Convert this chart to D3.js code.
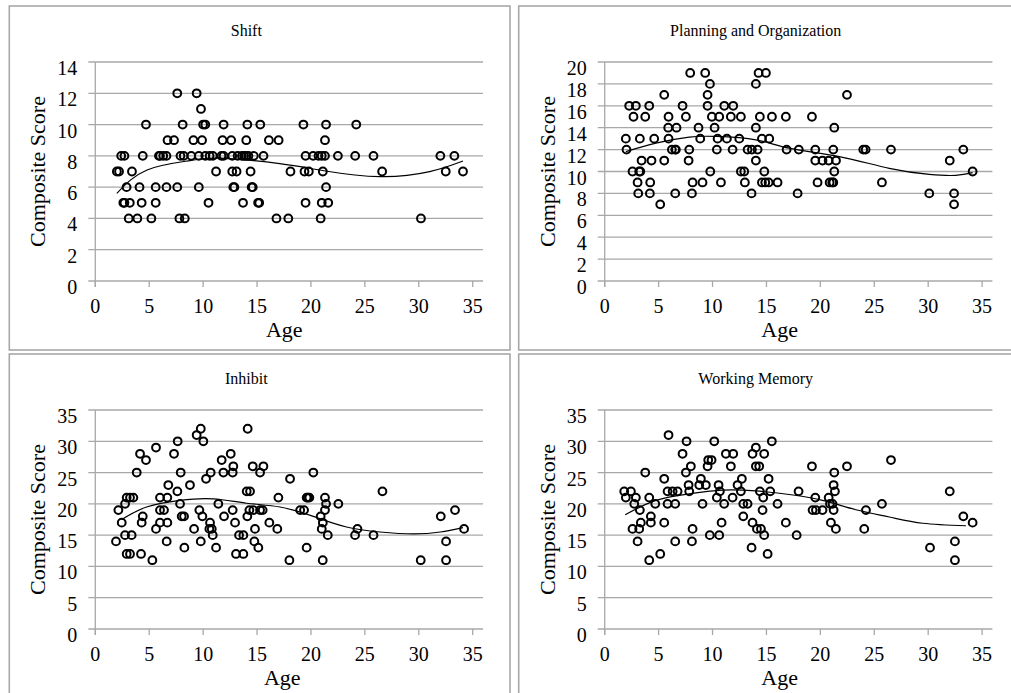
<!DOCTYPE html>
<html>
<head>
<meta charset="utf-8">
<script src="https://cdn.jsdelivr.net/npm/d3@7"></script>
<style>
  html, body { margin: 0; padding: 0; background: #fff; }
  svg { display: block; }
  text { font-family: "Liberation Serif", "Times New Roman", serif; fill: #000; }
</style>
</head>
<body>
<svg id="chart" width="1011" height="693"></svg>
<script>
// ---------------- DATA ----------------
const xTicks = [0, 5, 10, 15, 20, 25, 30, 35];

// Shift: score levels and the ages observed at each level
const shiftLevels = [12, 11, 10, 9, 8, 7, 6, 5, 4];
const shiftAges = [
  [7.6, 9.4],
  [9.8],
  [4.7, 8.1, 10.0, 10.2, 11.9, 14.1, 15.3, 19.3, 21.4, 24.2],
  [6.7, 7.3, 9.1, 9.9, 11.8, 12.6, 14.0, 16.1, 17.0, 21.3],
  [2.4, 2.7, 4.4, 5.9, 6.0, 6.3, 6.6, 7.9, 8.2, 8.9, 9.6, 10.2, 10.6, 10.9, 11.7, 11.9, 12.7, 13.2, 13.6, 13.8, 14.0, 14.2, 14.7, 15.6, 19.5, 20.2, 20.7, 21.0, 21.3, 22.5, 24.1, 25.8, 32.0, 33.3],
  [2.0, 2.2, 3.4, 11.2, 12.7, 13.1, 14.4, 18.1, 19.4, 19.8, 21.1, 26.6, 32.5, 34.1],
  [2.9, 4.1, 5.6, 6.6, 7.6, 9.6, 12.8, 12.9, 14.5, 14.6, 21.4],
  [2.6, 2.7, 3.2, 4.3, 5.6, 10.5, 13.7, 15.1, 15.2, 19.5, 21.0, 21.6],
  [3.1, 3.9, 5.2, 7.8, 8.3, 16.8, 17.9, 20.9, 30.2]
];
const shiftTicks = [0, 2, 4, 6, 8, 10, 12, 14];
const shiftTrendAge   = [2.0, 4.8, 8.8, 11.6, 17.1, 21.2, 26.4, 31.0, 34.1];
const shiftTrendScore = [5.6, 7.1, 7.7, 7.85, 7.5, 7.05, 6.67, 6.99, 7.67];

// Planning and Organization
const planLevels = [19, 18, 17, 16, 15, 14, 13, 12, 11, 10, 9, 8, 7];
const planAges = [
  [7.93, 9.32, 14.27, 14.95],
  [9.76, 14.02],
  [5.52, 9.54, 22.47],
  [2.27, 2.89, 4.13, 7.22, 9.54, 11.09, 11.92],
  [2.67, 3.76, 5.92, 7.53, 9.94, 10.62, 11.7, 12.63, 14.39, 15.51, 16.8, 19.22],
  [5.89, 6.66, 8.7, 10.19, 14.02, 21.29],
  [1.96, 3.26, 4.59, 5.92, 8.86, 10.47, 11.33, 12.48, 14.58, 15.26],
  [2.02, 6.23, 6.54, 6.6, 7.84, 10.4, 11.86, 13.25, 13.65, 14.18, 16.87, 18.0, 19.53, 21.2, 23.98, 24.2, 26.55, 33.26],
  [3.42, 4.34, 5.52, 7.78, 14.02, 19.53, 20.2, 20.77, 21.45, 32.0],
  [2.58, 3.2, 3.3, 9.79, 12.63, 12.94, 14.8, 21.29, 34.12],
  [3.05, 4.22, 8.15, 9.07, 10.78, 13.0, 14.58, 14.89, 15.2, 16.03, 19.74, 20.86, 21.1, 21.2, 25.71],
  [3.11, 4.19, 6.54, 8.09, 13.62, 17.89, 30.1, 32.4],
  [5.15, 32.4]
];
const planTicks = [0, 2, 4, 6, 8, 10, 12, 14, 16, 18, 20];
const planTrendAge   = [1.96, 4.75, 7.84, 10.31, 14.02, 17.1, 21.75, 26.39, 30.1, 32.57, 34.12];
const planTrendScore = [11.82, 12.59, 13.14, 13.2, 12.89, 12.13, 11.36, 10.29, 9.74, 9.65, 9.89];

// Inhibit
const inhLevels = [32, 31, 30, 29, 28, 27, 26, 25, 24, 23, 22, 21, 20, 19, 18, 17, 16, 15, 14, 13, 12, 11];
const inhAges = [
  [9.78, 14.13],
  [9.4],
  [7.64, 10.02],
  [5.63],
  [4.15, 7.3, 12.56],
  [4.7, 11.72],
  [12.8, 14.6, 15.59],
  [3.84, 7.92, 10.7, 11.88, 12.74, 15.28, 20.22],
  [10.27, 18.06],
  [6.77, 8.78],
  [7.61, 14.04, 14.35, 26.63],
  [2.91, 3.22, 3.53, 6.0, 6.68, 16.98, 19.6, 19.7, 19.85, 21.3],
  [2.76, 7.86, 11.41, 21.4, 22.54],
  [2.14, 6.0, 6.37, 9.65, 12.74, 14.29, 14.66, 15.28, 15.52, 19.0, 19.36, 21.3, 33.36],
  [4.4, 8.01, 8.23, 9.93, 11.94, 14.1, 20.9, 32.04],
  [2.45, 4.3, 6.0, 6.68, 10.64, 12.96, 16.14, 21.1],
  [5.63, 9.16, 10.58, 10.8, 14.81, 16.88, 21.0, 24.31, 34.2],
  [2.76, 3.37, 10.89, 13.33, 13.73, 21.56, 24.09, 25.8],
  [1.92, 6.62, 9.78, 14.75, 32.53],
  [8.26, 11.2, 15.12, 19.6],
  [2.91, 3.22, 4.24, 13.05, 13.73],
  [5.29, 18.0, 21.09, 30.18, 32.53]
];
const bigTicks = [0, 5, 10, 15, 20, 25, 30, 35];
const inhTrendAge   = [2.45, 4.76, 7.85, 10.94, 14.04, 17.13, 20.22, 23.3, 26.4, 29.5, 32.0, 34.1];
const inhTrendScore = [17.5, 19.5, 20.56, 20.8, 20.1, 19.5, 18.0, 16.3, 15.5, 15.2, 15.5, 16.2];

// Working Memory
const wmLevels = [31, 30, 29, 28, 27, 26, 25, 24, 23, 22, 21, 20, 19, 18, 17, 16, 15, 14, 13, 12, 11];
const wmAges = [
  [5.92],
  [7.59, 10.16, 15.5],
  [14.02],
  [7.22, 11.24, 11.92, 13.71, 14.79],
  [9.6, 9.91, 26.55],
  [7.99, 9.54, 11.7, 14.02, 14.33, 19.22, 22.47],
  [3.76, 7.53, 21.29],
  [5.52, 8.92, 12.72, 15.2],
  [7.78, 8.77, 9.38, 10.56, 12.32, 21.23],
  [1.81, 2.43, 5.83, 6.3, 6.76, 7.84, 10.68, 12.63, 14.39, 15.35, 17.98, 21.35, 32.0],
  [1.96, 2.89, 4.13, 10.4, 11.86, 14.7, 19.53, 20.77],
  [2.74, 4.69, 5.83, 6.54, 9.07, 11.08, 12.85, 13.25, 16.03, 20.89, 21.13, 25.71],
  [3.26, 14.64, 19.28, 19.59, 20.2, 21.23, 24.23],
  [4.28, 12.85, 33.26],
  [3.35, 4.28, 5.52, 10.84, 13.71, 16.8, 20.98, 34.12],
  [2.58, 3.2, 8.15, 14.12, 14.49, 21.44, 24.07],
  [9.75, 10.62, 14.79, 17.8],
  [3.05, 6.54, 8.09, 32.48],
  [13.62, 30.17],
  [5.15, 15.11],
  [4.13, 32.48]
];
const wmTrendAge   = [1.9, 4.75, 7.84, 10.93, 14.02, 17.1, 20.2, 23.3, 26.4, 29.5, 33.5];
const wmTrendScore = [18.26, 20.56, 21.6, 22.2, 22.06, 21.5, 20.56, 19.06, 17.9, 16.9, 16.5];

const titles = ["Shift", "Planning and Organization", "Inhibit", "Working Memory"];
const xLabel = "Age";
const yLabel = "Composite Score";

// ---------------- LAYOUT ----------------
const panels = [
  { title: titles[0], px: 9.3,   py: 6,   ageX: 275, levels: shiftLevels, ages: shiftAges, ticks: shiftTicks, tA: shiftTrendAge, tS: shiftTrendScore },
  { title: titles[1], px: 518.7, py: 6,   ageX: 261, levels: planLevels,  ages: planAges,  ticks: planTicks,  tA: planTrendAge,  tS: planTrendScore },
  { title: titles[2], px: 9.3,   py: 354, ageX: 273, levels: inhLevels,   ages: inhAges,   ticks: bigTicks,   tA: inhTrendAge,   tS: inhTrendScore },
  { title: titles[3], px: 518.7, py: 354, ageX: 261, levels: wmLevels,    ages: wmAges,    ticks: bigTicks,   tA: wmTrendAge,    tS: wmTrendScore }
];

const PW = 500.7, PH = 344;
const plotL = 86, plotX35 = 463.4, gridR = 473.7, plotT = 56, plotB = 275;
const gridColor = "#a8a8a8";

const svg = d3.select("#chart");
svg.append("rect").attr("width", 1011).attr("height", 693).attr("fill", "#fff");

panels.forEach(p => {
  const g = svg.append("g").attr("transform", `translate(${p.px},${p.py})`);
  g.append("rect").attr("x", 0).attr("y", 0).attr("width", PW).attr("height", PH)
    .attr("fill", "#fff").attr("stroke", gridColor).attr("stroke-width", 1.6);

  const yMax = p.ticks[p.ticks.length - 1];
  const x = d3.scaleLinear().domain([0, 35]).range([plotL, plotX35]);
  const y = d3.scaleLinear().domain([0, yMax]).range([plotB, plotT]);

  // gridlines with left tick extension
  g.selectAll(".grid").data(p.ticks).enter().append("line")
    .attr("x1", plotL - 7).attr("x2", gridR)
    .attr("y1", d => y(d)).attr("y2", d => y(d))
    .attr("stroke", gridColor).attr("stroke-width", 1.3);
  // y axis line
  g.append("line").attr("x1", plotL).attr("x2", plotL).attr("y1", plotT).attr("y2", plotB + 6)
    .attr("stroke", gridColor).attr("stroke-width", 1.3);
  // x ticks
  g.selectAll(".xt").data(xTicks).enter().append("line")
    .attr("x1", d => x(d)).attr("x2", d => x(d))
    .attr("y1", plotB).attr("y2", plotB + 6)
    .attr("stroke", gridColor).attr("stroke-width", 1.3);

  // y tick labels
  g.selectAll(".yl").data(p.ticks).enter().append("text")
    .attr("x", plotL - 18).attr("y", d => y(d) + 13)
    .attr("text-anchor", "end").attr("font-size", 20).text(d => d);
  // x tick labels
  g.selectAll(".xl").data(xTicks).enter().append("text")
    .attr("x", d => x(d)).attr("y", plotB + 32)
    .attr("text-anchor", "middle").attr("font-size", 20).text(d => d);

  // titles
  g.append("text").attr("x", 237).attr("y", 30).attr("text-anchor", "middle")
    .attr("font-size", 16).text(p.title);
  g.append("text").attr("x", p.ageX).attr("y", 331).attr("text-anchor", "middle")
    .attr("font-size", 22).text(xLabel);
  g.append("text").attr("transform", `translate(36,${(plotT + plotB) / 2}) rotate(-90)`)
    .attr("text-anchor", "middle").attr("font-size", 22).text(yLabel);

  // points
  const pts = [];
  p.levels.forEach((lv, i) => p.ages[i].forEach(a => pts.push({ a, v: lv })));
  g.selectAll(".pt").data(pts).enter().append("circle")
    .attr("cx", d => x(d.a)).attr("cy", d => y(d.v)).attr("r", 3.9)
    .attr("fill", "none").attr("stroke", "#000").attr("stroke-width", 2);

  // trend line
  const tr = p.tA.map((a, i) => ({ a, v: p.tS[i] }));
  g.append("path").datum(tr)
    .attr("d", d3.line().x(d => x(d.a)).y(d => y(d.v)).curve(d3.curveNatural))
    .attr("fill", "none").attr("stroke", "#000").attr("stroke-width", 1.2);
});
</script>
</body>
</html>
